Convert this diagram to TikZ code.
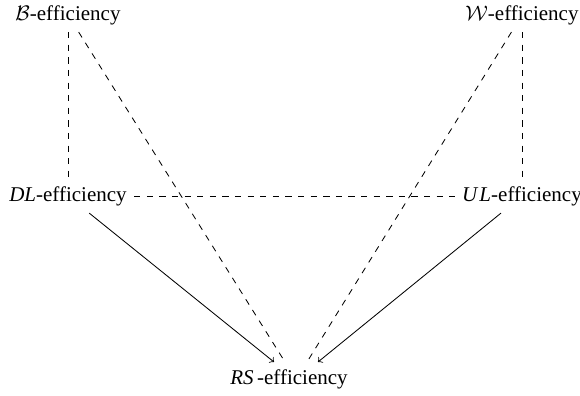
\documentclass[tikz,border=0pt]{standalone}
\usepackage{fontspec}
\setmainfont{Liberation Serif}
\usepackage{tikz}
\usetikzlibrary{arrows, calc, positioning}

\begin{document}
\begin{tikzpicture}[x=0.476pt, y=-0.476pt]
                        \useasboundingbox (0, 0) rectangle (580, 396);
                        \node (b) at (68, 15) {$\mathcal{B}$-efficiency};
                        \node (w) at (522, 15) {$\mathcal{W}$-efficiency};
                        \node (dl) at (68, 196) {\textit{DL}-efficiency};
                        \node (ul) at (522, 196) {\textit{U\kern1pt L}-efficiency};
                        \node (rs) at (289, 379) {\textit{RS}\,-efficiency};
                        \coordinate (rs1) at (274, 362);
                        \coordinate (rs2) at (285, 362);
                        \coordinate (rs3) at (307, 362);
                        \coordinate (rs4) at (318, 362);
                        \draw
                        (b) edge[dashed] (dl)
                        (w) edge[dashed] (ul)
                        (dl) edge[dashed] (ul)
                        (b) edge[dashed] (rs2)
                        (w) edge[dashed] (rs3)
                        (dl) edge[->] (rs1)
                        (ul) edge[->] (rs4);
                    \end{tikzpicture}
\end{document}
